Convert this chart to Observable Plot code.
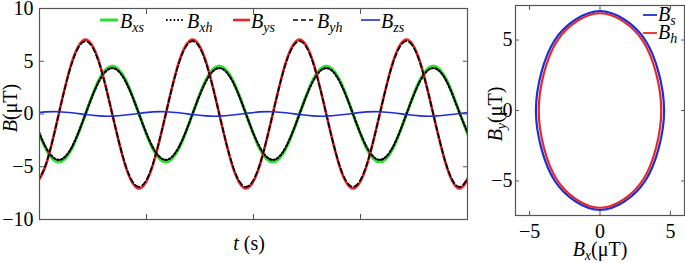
<!DOCTYPE html>
<html><head><meta charset="utf-8">
<script src="https://cdn.jsdelivr.net/npm/d3@7"></script>
<script src="https://cdn.jsdelivr.net/npm/@observablehq/plot@0.6"></script>
<style>
body{margin:0;background:#fff;}
#wrap{position:relative;width:685px;height:263px;display:flex;}
#wrap svg{overflow:visible;}
</style></head><body><div id="wrap"></div>
<script>
// time (arbitrary units, one period of the field ≈ 1)
const t = [-0.07, 0.055, 0.18, 0.305, 0.43, 0.555, 0.68, 0.805,
           0.93, 1.055, 1.18, 1.305, 1.43, 1.555, 1.68, 1.805,
           1.93, 2.055, 2.18, 2.305, 2.43, 2.555, 2.68, 2.805,
           2.93, 3.055, 3.18, 3.305, 3.43, 3.555, 3.68, 3.805,
           3.93, 4.055];
const Bxs = [0, -3.22, -4.55, -3.22, 0, 3.22, 4.55, 3.22,
             0, -3.22, -4.55, -3.22, 0, 3.22, 4.55, 3.22,
             0, -3.22, -4.55, -3.22, 0, 3.22, 4.55, 3.22,
             0, -3.22, -4.55, -3.22, 0, 3.22, 4.55, 3.22,
             0, -3.22];
const Bxh = [0, -3.08, -4.35, -3.08, 0, 3.08, 4.35, 3.08,
             0, -3.08, -4.35, -3.08, 0, 3.08, 4.35, 3.08,
             0, -3.08, -4.35, -3.08, 0, 3.08, 4.35, 3.08,
             0, -3.08, -4.35, -3.08, 0, 3.08, 4.35, 3.08,
             0, -3.08];
const Bys = [-7.05, -4.98, 0, 4.98, 7.05, 4.98, 0, -4.98,
             -7.05, -4.98, 0, 4.98, 7.05, 4.98, 0, -4.98,
             -7.05, -4.98, 0, 4.98, 7.05, 4.98, 0, -4.98,
             -7.05, -4.98, 0, 4.98, 7.05, 4.98, 0, -4.98,
             -7.05, -4.98];
const Byh = [-6.9, -4.88, 0, 4.88, 6.9, 4.88, 0, -4.88,
             -6.9, -4.88, 0, 4.88, 6.9, 4.88, 0, -4.88,
             -6.9, -4.88, 0, 4.88, 6.9, 4.88, 0, -4.88,
             -6.9, -4.88, 0, 4.88, 6.9, 4.88, 0, -4.88,
             -6.9, -4.88];
const Bzs = [0.05, 0.2, 0.22, 0.12, -0.05, -0.18, -0.2, -0.1,
             0.05, 0.2, 0.22, 0.12, -0.05, -0.18, -0.2, -0.1,
             0.05, 0.2, 0.22, 0.12, -0.05, -0.18, -0.2, -0.1,
             0.05, 0.2, 0.22, 0.12, -0.05, -0.18, -0.2, -0.1,
             0.05, 0.2];
const yTicksLeft = [-10, -5, 0, 5, 10];
const xTicksLeft = [1, 2, 3];
const ticksRight = [-5, 0, 5];
const seriesNames = ["xs", "xh", "ys", "yh", "zs"];
const loopNames = ["s", "h"];

const GREEN = "#2fe02f", RED = "#e8262a", BLUE = "#1e2ed8", AX = "#555";
const FONT = "Liberation Serif";
const idx = t.map((_, i) => i);
const cycle = idx.slice(0, 8); // one full period of the rotating field

const leftStyles = [
  {color: GREEN, width: 3, dash: null},
  {color: "#000", width: 2.2, dash: "1.6,2.2"},
  {color: RED, width: 2.6, dash: null},
  {color: "#000", width: 1.7, dash: "5,3"},
  {color: BLUE, width: 1.6, dash: null}
];
const seriesData = [Bxs, Bxh, Bys, Byh, Bzs];

const left = Plot.plot({
  width: 478, height: 263,
  marginLeft: 39, marginRight: 11, marginTop: 8, marginBottom: 44,
  style: {fontSize: "20px", color: "#000", background: "transparent"},
  x: {domain: [0, 4]},
  y: {domain: [-10, 10]},
  marks: [
    ...seriesData.map((arr, k) => Plot.line(idx, {
      x: i => t[i], y: i => arr[i], curve: "natural", clip: true,
      stroke: leftStyles[k].color, strokeWidth: leftStyles[k].width,
      strokeDasharray: leftStyles[k].dash
    })),
    Plot.frame({stroke: AX, strokeWidth: 1.2}),
    Plot.axisY({ticks: yTicksLeft, anchor: "left", tickSize: -5, tickPadding: 11, label: null, stroke: AX, fontFamily: FONT}),
    Plot.axisY({ticks: yTicksLeft, anchor: "right", tickSize: -5, tickFormat: () => "", label: null, stroke: AX}),
    Plot.axisX({ticks: xTicksLeft, anchor: "bottom", tickSize: -5, tickFormat: () => "", label: null, stroke: AX}),
    Plot.axisX({ticks: xTicksLeft, anchor: "top", tickSize: -5, tickFormat: () => "", label: null, stroke: AX})
  ]
});

const right = Plot.plot({
  width: 207, height: 263,
  marginLeft: 37, marginRight: 1, marginTop: 5, marginBottom: 48,
  style: {fontSize: "20px", color: "#000", background: "transparent"},
  x: {domain: [-6, 6]},
  y: {domain: [-7.45, 7.45]},
  marks: [
    Plot.line(cycle, {x: i => Bxs[i], y: i => Bys[i], curve: "catmull-rom-closed", tension: 0, stroke: BLUE, strokeWidth: 2.2}),
    Plot.line(cycle, {x: i => Bxh[i], y: i => Byh[i], curve: "catmull-rom-closed", tension: 0, stroke: RED, strokeWidth: 2.2}),
    Plot.frame({stroke: AX, strokeWidth: 1.2}),
    Plot.axisY({ticks: ticksRight, anchor: "left", tickSize: -4, tickPadding: 7, label: null, stroke: AX, fontFamily: FONT}),
    Plot.axisY({ticks: ticksRight, anchor: "right", tickSize: -4, tickFormat: () => "", label: null, stroke: AX}),
    Plot.axisX({ticks: ticksRight, anchor: "bottom", tickSize: -4, tickPadding: 12, label: null, stroke: AX, fontFamily: FONT}),
    Plot.axisX({ticks: ticksRight, anchor: "top", tickSize: -4, tickFormat: () => "", label: null, stroke: AX})
  ]
});

const wrap = document.getElementById("wrap");
wrap.append(left, right);

// helper: italic symbol with subscript, plus optional upright suffix
function richText(g, x, y, main, sub, suffix, opts = {}) {
  const size = opts.size || 20;
  const txt = g.append("text").attr("x", x).attr("y", y)
    .attr("font-family", FONT).attr("font-size", size)
    .attr("fill", "#000").attr("text-anchor", opts.anchor || "start");
  if (opts.rotate) txt.attr("transform", `rotate(-90 ${x} ${y})`);
  txt.append("tspan").attr("font-style", "italic").text(main);
  if (sub) txt.append("tspan").attr("font-style", "italic").attr("font-size", size * 0.7)
    .attr("dy", 4).text(sub);
  if (suffix) txt.append("tspan").attr("dy", sub ? -4 : 0).text(suffix);
  return txt;
}

// left legend
const gl = d3.select(left).append("g");
const legX = [[100, 118, 120], [166, 183, 187], [233, 250, 251], [293, 313, 317], [361, 380, 381]];
seriesNames.forEach((s, k) => {
  const st = leftStyles[k];
  gl.append("line").attr("x1", legX[k][0]).attr("x2", legX[k][1]).attr("y1", 20).attr("y2", 20)
    .attr("stroke", st.color).attr("stroke-width", st.width).attr("stroke-dasharray", st.dash);
  richText(gl, legX[k][2], 28, "B", s, null);
});
// left axis labels
richText(gl, 249, 250, "t", null, " (s)", {anchor: "middle"});
richText(gl, 17, 108, "B", null, "(μT)", {anchor: "middle", rotate: true});

// right legend and labels
const gr = d3.select(right).append("g");
const loopColors = [BLUE, RED];
loopNames.forEach((s, k) => {
  const y = 15 + k * 18;
  gr.append("line").attr("x1", 165).attr("x2", 179).attr("y1", y).attr("y2", y)
    .attr("stroke", loopColors[k]).attr("stroke-width", 1.8);
  richText(gr, 180, y + 6, "B", s, null);
});
richText(gr, 122, 256, "B", "x", "(μT)", {anchor: "middle"});
richText(gr, 24, 114, "B", "y", "(μT)", {anchor: "middle", rotate: true});

// make sure every text uses the serif face
d3.selectAll("#wrap svg").attr("font-family", FONT);
d3.selectAll("#wrap svg text").attr("font-family", FONT).style("font-family", FONT);
</script></body></html>
